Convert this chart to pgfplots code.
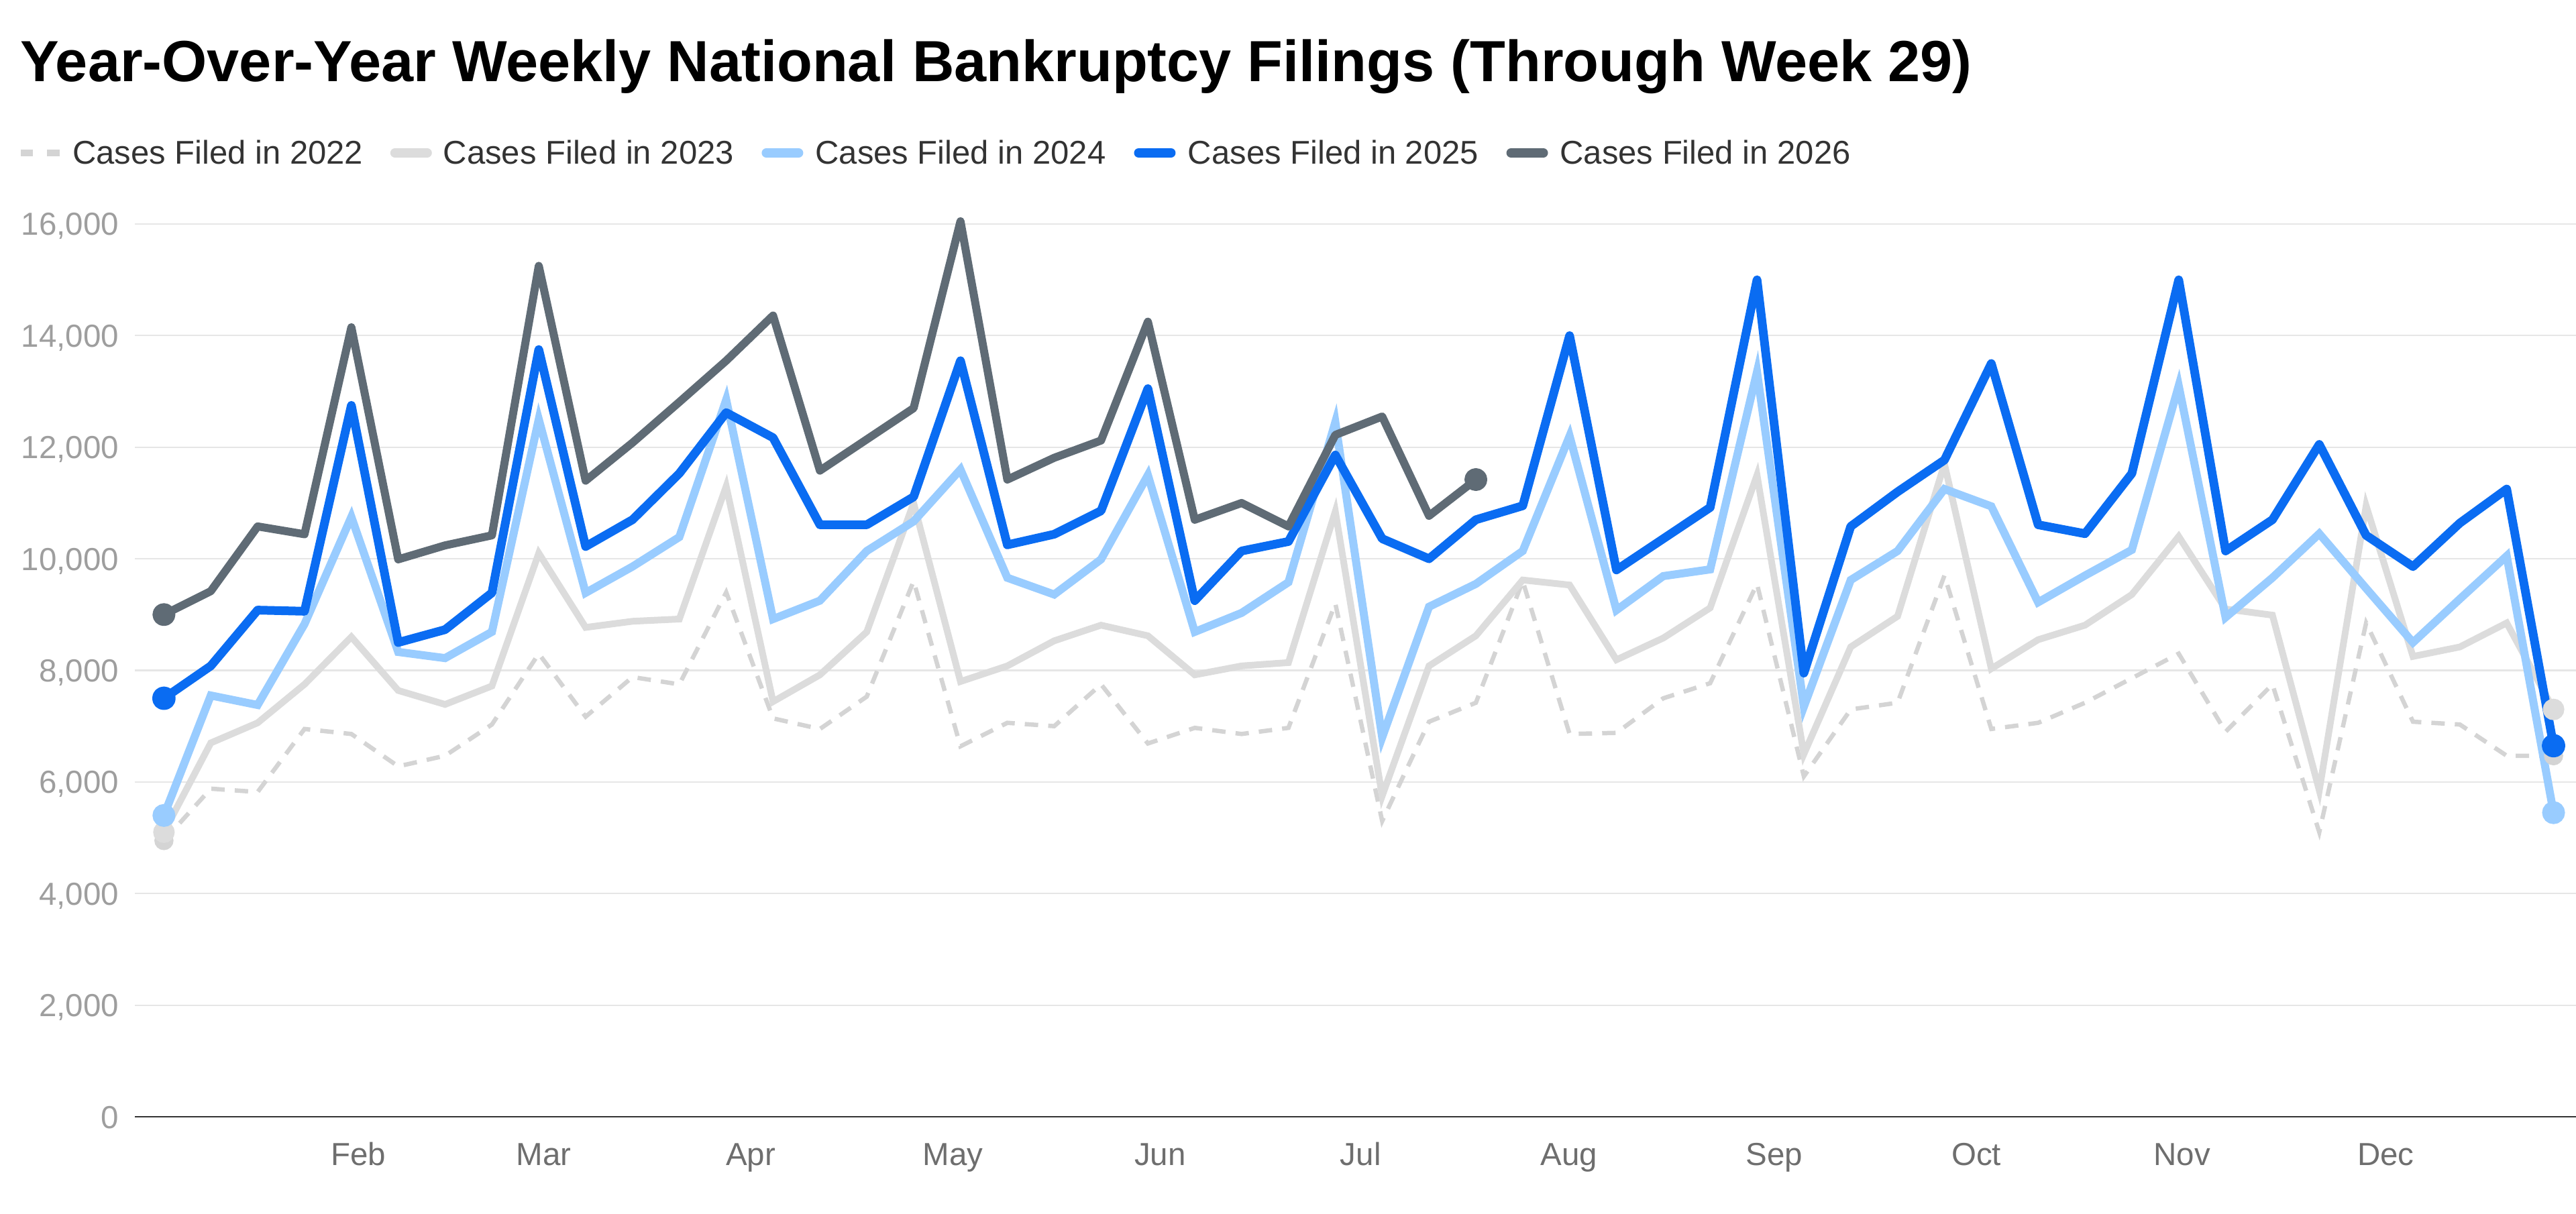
\documentclass[border=0pt]{standalone}
\usepackage{fontspec}
\setmainfont{Liberation Sans}
\usepackage{pgfplots}
\pgfplotsset{compat=1.18}
\usepackage{pgfplotstable}

\definecolor{c22}{HTML}{D4D4D4}
\definecolor{c23}{HTML}{DCDCDC}
\definecolor{c24}{HTML}{99CCFF}
\definecolor{c25}{HTML}{0A6CF2}
\definecolor{c26}{HTML}{5F6B75}
\definecolor{gridc}{HTML}{E6E6E6}
\definecolor{ytc}{HTML}{9E9E9E}
\definecolor{xtc}{HTML}{6E6E6E}
\definecolor{legc}{HTML}{333333}
\definecolor{axc}{HTML}{333333}

\pgfplotstableread{
week y22 y23 y24 y25
1 4950 5100 5400 7500
2 5880 6700 7550 8080
3 5820 7060 7380 9080
4 6950 7750 8830 9060
5 6860 8600 10750 12750
6 6280 7640 8330 8500
7 6470 7390 8220 8730
8 7030 7720 8690 9390
9 8300 10100 12500 13750
10 7170 8770 9390 10220
11 7880 8880 9860 10700
12 7750 8920 10390 11530
13 9400 11300 12850 12620
14 7140 7440 8920 12170
15 6950 7920 9250 10610
16 7530 8690 10140 10610
17 9600 11000 10670 11110
18 6640 7800 11600 13550
19 7060 8080 9660 10250
20 7000 8530 9360 10440
21 7750 8810 9990 10860
22 6690 8620 11500 13050
23 6970 7920 8690 9250
24 6860 8080 9030 10140
25 6970 8140 9580 10310
26 9200 10850 12450 11860
27 5300 5750 6800 10360
28 7080 8080 9140 10000
29 7420 8620 9550 10700
30 9600 9620 10140 10950
31 6860 9530 12200 14000
32 6880 8190 9080 9800
33 7500 8580 9690 10360
34 7770 9120 9810 10920
35 9550 11500 13350 15000
36 6100 6500 7350 7950
37 7300 8420 9620 10580
38 7420 8970 10140 11200
39 9700 11700 11250 11770
40 6950 8030 10940 13500
41 7060 8550 9220 10610
42 7420 8810 9700 10450
43 7860 9360 10160 11530
44 8300 10400 13100 15000
45 6900 9100 8950 10140
46 7750 8990 9660 10700
47 5100 5850 10450 12050
48 8850 10950 9470 10420
49 7080 8250 8500 9860
50 7030 8420 9280 10640
51 6470 8850 10050 11250
52 6470 7300 5450 6650
}\dataA

\pgfplotstableread{
week y26
1 9000
2 9420
3 10580
4 10440
5 14150
6 9990
7 10240
8 10420
9 15250
10 11400
11 12080
12 12810
13 13550
14 14360
15 11580
16 12140
17 12700
18 16050
19 11420
20 11810
21 12120
22 14250
23 10700
24 11000
25 10580
26 12220
27 12550
28 10770
29 11420
}\dataB

\begin{document}
\begin{tikzpicture}
\node[anchor=base west, inner sep=0pt, font=\fontsize{17.3}{20}\selectfont\bfseries, text=black] at (5.8pt,337.4pt) {Year-Over-Year Weekly National Bankruptcy Filings (Through Week 29)};
\begin{axis}[
  at={(40.2pt,28.8pt)}, anchor=south west,
  scale only axis, width=727.8pt, height=266.2pt,
  xmin=0.379, xmax=52.48, ymin=0, ymax=16000,
  clip=false,
  axis x line*=bottom, axis y line*=left,
  x axis line style={draw=axc, line width=0.55pt, -},
  y axis line style={draw=none},
  major tick length=0pt,
  xtick={5.147,9.107,13.526,17.84,22.26,26.54,30.99,35.37,39.68,44.07,48.42},
  xticklabels={Feb,Mar,Apr,May,Jun,Jul,Aug,Sep,Oct,Nov,Dec},
  xticklabel style={anchor=base, yshift=-14.5pt, inner sep=0pt, font=\fontsize{9.5}{11}\selectfont, text=xtc},
  ytick={0,2000,4000,6000,8000,10000,12000,14000,16000},
  yticklabel style={anchor=base east, xshift=-4.6pt, yshift=-3.4pt, inner sep=0pt, font=\fontsize{9.5}{11}\selectfont, text=ytc},
  scaled y ticks=false,
  /pgf/number format/.cd, 1000 sep={,}, assume math mode=true,
  /pgfplots/.cd,
  ymajorgrids, grid style={draw=gridc, line width=0.45pt},
  legend style={at={(axis description cs:0,1)}, anchor=west, xshift=-35pt, yshift=20.2pt,
    draw=none, fill=none, inner sep=0pt, outer sep=0pt,
    nodes={inner sep=0pt, anchor=base west},
    font=\fontsize{9.8}{12}\selectfont, text=legc,
    /tikz/every odd column/.append style={column sep=2.4pt},
    /tikz/every even column/.append style={column sep=7.1pt}},
  legend columns=-1, legend cell align=left,
  legend image code/.code={\path (0pt,-1pt) (12.4pt,1pt); \draw[#1, mark=none, solid, line width=2.8pt, line cap=round] (1.4pt,3.4pt) -- (11pt,3.4pt);},
]
\addplot[c22, line width=1.3pt, dash pattern=on 4pt off 3pt, mark=*, mark indices={1,52}, mark size=2.2pt, mark options={solid, fill=c22, draw=c22},
  legend image code/.code={\path (0pt,-1pt) (12.4pt,1pt); \draw[c22, line width=2pt] (0pt,3.4pt) -- (3.6pt,3.4pt) (7.8pt,3.4pt) -- (11.6pt,3.4pt);}]
  table[x=week, y=y22] {\dataA};
\addlegendentry{Cases Filed in 2022}
\addplot[c23, line width=2pt, mark=*, mark indices={1,52}, mark size=2.2pt, mark options={fill=c23, draw=c23}]
  table[x=week, y=y23] {\dataA};
\addlegendentry{Cases Filed in 2023}
\addplot[c24, line width=2.4pt, mark=*, mark indices={1,52}, mark size=2.2pt, mark options={fill=c24, draw=c24}]
  table[x=week, y=y24] {\dataA};
\addlegendentry{Cases Filed in 2024}
\addplot[c25, line width=2.6pt, line join=round, mark=*, mark indices={1,52}, mark size=2.2pt, mark options={fill=c25, draw=c25}]
  table[x=week, y=y25] {\dataA};
\addlegendentry{Cases Filed in 2025}
\addplot[c26, line width=2.4pt, line join=round, mark=*, mark indices={1,29}, mark size=2.2pt, mark options={fill=c26, draw=c26}]
  table[x=week, y=y26] {\dataB};
\addlegendentry{Cases Filed in 2026}
\end{axis}
\pgfresetboundingbox
\useasboundingbox (0,0) rectangle (768pt,361.8pt);
\end{tikzpicture}
\end{document}
